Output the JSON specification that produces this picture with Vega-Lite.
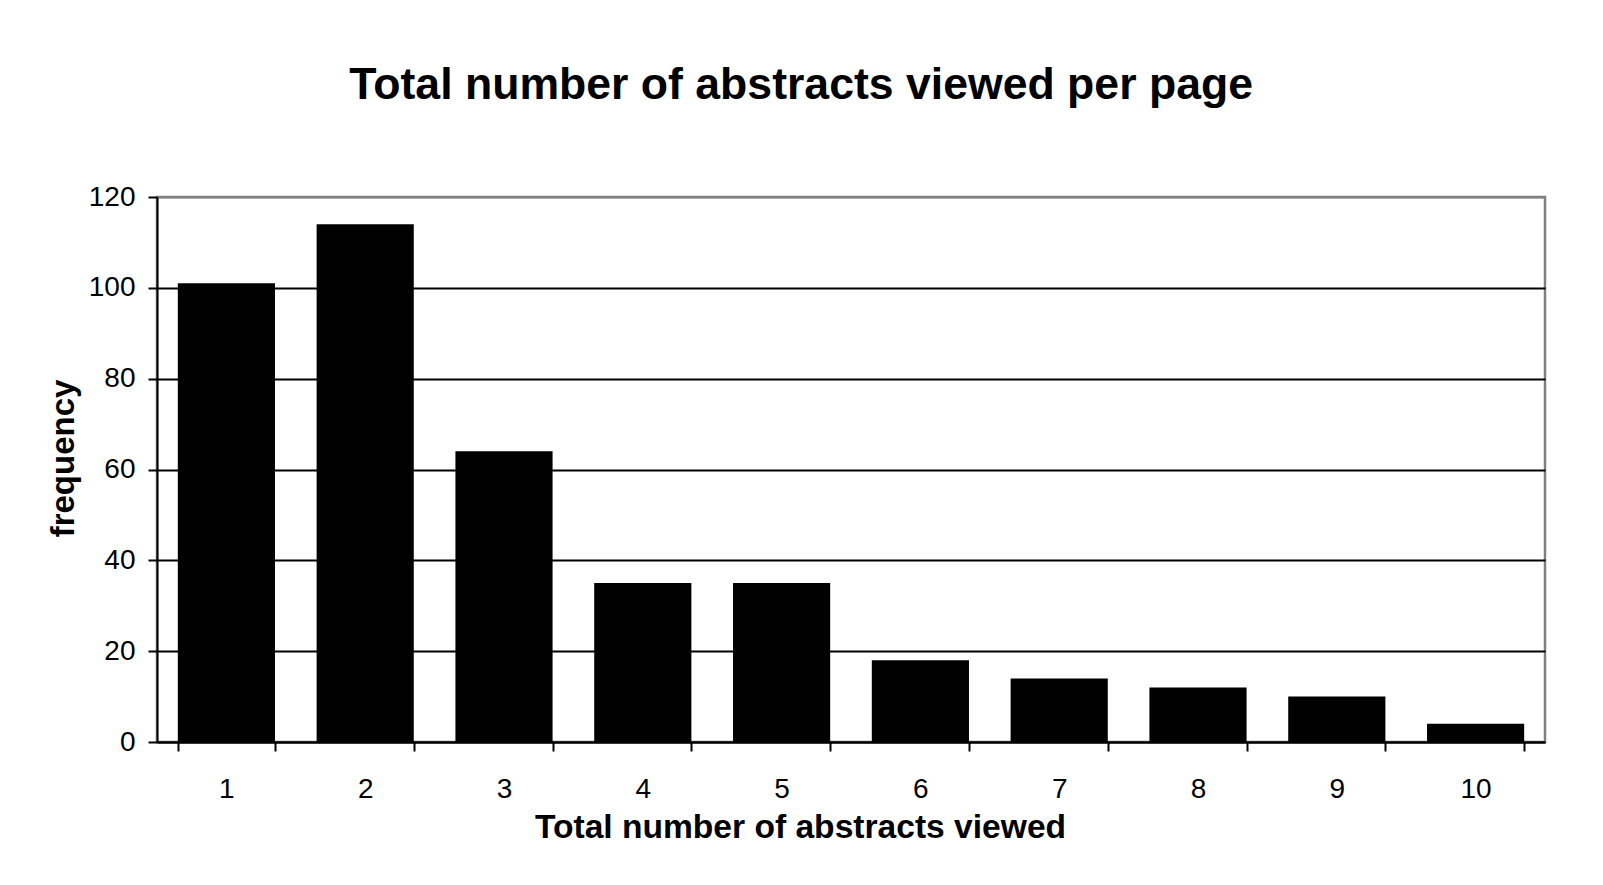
{
  "$schema": "https://vega.github.io/schema/vega-lite/v6.json",
  "width": 1388,
  "height": 545,
  "padding": {"left": 47, "top": 63, "right": 50, "bottom": 20},
  "background": "white",
  "title": {
    "text": "Total number of abstracts viewed per page",
    "font": "Liberation Sans",
    "fontSize": 44.6,
    "fontWeight": "bold",
    "color": "black",
    "anchor": "middle",
    "frame": "bounds",
    "offset": 74,
    "dx": 5
  },
  "data": {
    "values": [
      {"abstracts": "1", "frequency": 101},
      {"abstracts": "2", "frequency": 114},
      {"abstracts": "3", "frequency": 64},
      {"abstracts": "4", "frequency": 35},
      {"abstracts": "5", "frequency": 35},
      {"abstracts": "6", "frequency": 18},
      {"abstracts": "7", "frequency": 14},
      {"abstracts": "8", "frequency": 12},
      {"abstracts": "9", "frequency": 10},
      {"abstracts": "10", "frequency": 4}
    ]
  },
  "mark": {"type": "bar", "color": "black"},
  "encoding": {
    "x": {
      "field": "abstracts",
      "type": "ordinal",
      "sort": null,
      "scale": {"paddingInner": 0.3, "paddingOuter": 0.15},
      "axis": {
        "title": "Total number of abstracts viewed",
        "titleFont": "Liberation Sans",
        "titleFontSize": 33.6,
        "titleFontWeight": "bold",
        "titleColor": "black",
        "titleX": 643,
        "titleY": 95,
        "titleBaseline": "alphabetic",
        "labelFont": "Liberation Sans",
        "labelFontSize": 28,
        "labelColor": "black",
        "labelAngle": 0,
        "labelPadding": 24,
        "tickBand": "extent",
        "tickSize": 9,
        "tickWidth": 2,
        "tickColor": "black",
        "domainColor": "black",
        "domainWidth": 2,
        "grid": false
      }
    },
    "y": {
      "field": "frequency",
      "type": "quantitative",
      "scale": {"domain": [0, 120], "nice": false},
      "axis": {
        "title": "frequency",
        "titleFont": "Liberation Sans",
        "titleFontSize": 33,
        "titleFontWeight": "bold",
        "titleColor": "black",
        "titlePadding": 8,
        "titleY": 261,
        "values": [0, 20, 40, 60, 80, 100, 120],
        "labelFont": "Liberation Sans",
        "labelFontSize": 28,
        "labelColor": "black",
        "labelPadding": 13,
        "tickSize": 9,
        "tickWidth": 2,
        "tickColor": "black",
        "domainColor": "black",
        "domainWidth": 2,
        "grid": true,
        "gridColor": {"condition": {"test": "datum.value === 120", "value": "#808080"}, "value": "black"},
        "gridWidth": 2,
        "gridOpacity": 1
      }
    }
  },
  "config": {
    "view": {"stroke": "#808080", "strokeWidth": 2.5}
  }
}
